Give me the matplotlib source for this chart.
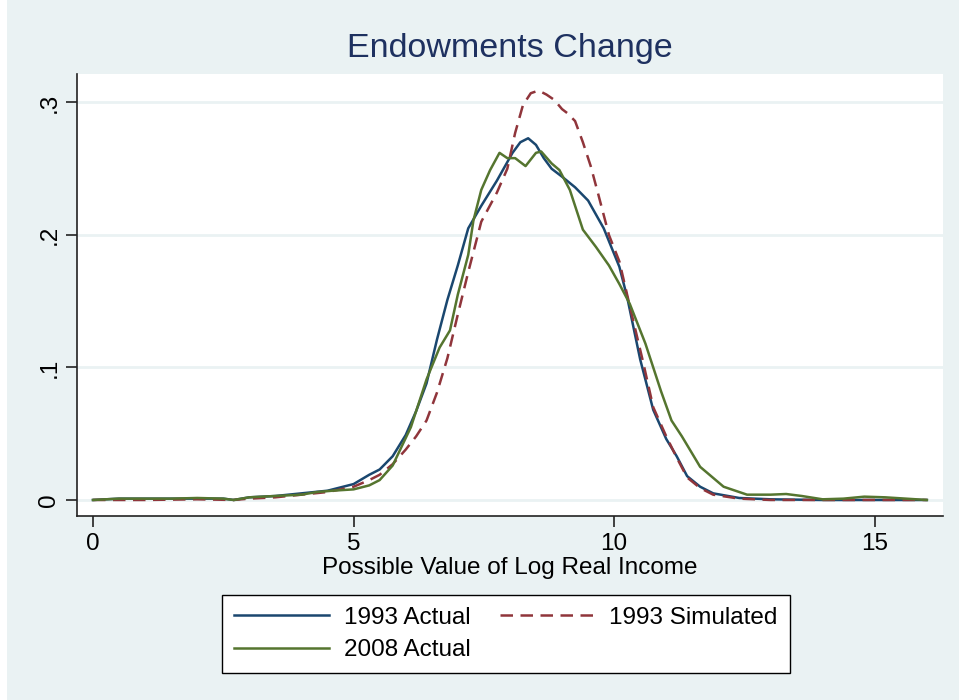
import numpy as np
import matplotlib
matplotlib.use("Agg")
import matplotlib.pyplot as plt
from matplotlib.patches import Rectangle

plt.rcParams['font.family'] = ['Liberation Sans', 'DejaVu Sans']

# 1993 Actual
x_a93 = [0, 0.5, 1, 1.5, 2, 2.5, 2.7, 3, 3.5, 4, 4.5, 5, 5.3, 5.5, 5.75, 6.0, 6.2, 6.4, 6.6, 6.8,
         7.0, 7.2, 7.45, 7.75, 8.05, 8.2, 8.35, 8.5, 8.65, 8.8, 9.0, 9.25, 9.5, 9.8, 10.1, 10.25,
         10.5, 10.75, 11.0, 11.2, 11.4, 11.65, 11.9, 12.4, 13, 14, 15, 16]
y_a93 = [0.000, 0.001, 0.001, 0.001, 0.001, 0.001, 0.000, 0.002, 0.003, 0.005, 0.007, 0.012, 0.019,
         0.023, 0.033, 0.049, 0.067, 0.088, 0.121, 0.151, 0.177, 0.205, 0.222, 0.241, 0.262, 0.270,
         0.273, 0.268, 0.258, 0.250, 0.244, 0.236, 0.226, 0.205, 0.176, 0.153, 0.106, 0.068, 0.046,
         0.033, 0.018, 0.010, 0.005, 0.0015, 0.0005, 0.0, 0.0, 0.0]

# 1993 Simulated
x_s93 = [0, 1, 2, 2.7, 3, 3.5, 4, 4.5, 5, 5.3, 5.5, 5.75, 6.0, 6.2, 6.4, 6.6, 6.8, 7.0, 7.2, 7.45,
         7.75, 7.95, 8.1, 8.25, 8.4, 8.55, 8.7, 8.85, 9.0, 9.1, 9.25, 9.4, 9.55, 9.7, 9.9, 10.1,
         10.35, 10.55, 10.75, 11.0, 11.2, 11.4, 11.65, 11.9, 12.4, 13, 14, 15, 16]
y_s93 = [0.0, 0.0, 0.0005, 0.0, 0.001, 0.002, 0.004, 0.006, 0.010, 0.015, 0.019, 0.027, 0.038,
         0.048, 0.060, 0.081, 0.107, 0.140, 0.172, 0.210, 0.232, 0.250, 0.277, 0.298, 0.307, 0.309,
         0.306, 0.302, 0.295, 0.292, 0.286, 0.270, 0.252, 0.230, 0.200, 0.180, 0.138, 0.105, 0.070,
         0.048, 0.032, 0.017, 0.009, 0.004, 0.001, 0.0, 0.0, 0.0, 0.0]

# 2008 Actual
x_a08 = [0, 0.5, 1, 1.5, 2, 2.5, 2.7, 3, 3.5, 4, 4.3, 4.6, 5, 5.3, 5.5, 5.75, 6.1, 6.4, 6.65, 6.85,
         7.0, 7.2, 7.3, 7.45, 7.62, 7.8, 7.95, 8.1, 8.3, 8.5, 8.6, 8.8, 8.95, 9.15, 9.4, 9.65, 9.9,
         10.1, 10.3, 10.6, 10.9, 11.1, 11.3, 11.65, 12.1, 12.55, 13.0, 13.3, 13.6, 14.0, 14.4, 14.8,
         15.2, 15.6, 16]
y_a08 = [0.0, 0.001, 0.001, 0.001, 0.0015, 0.001, 0.0, 0.002, 0.003, 0.004, 0.006, 0.007, 0.008,
         0.011, 0.015, 0.026, 0.055, 0.091, 0.115, 0.128, 0.155, 0.185, 0.211, 0.234, 0.249, 0.262,
         0.258, 0.258, 0.252, 0.262, 0.263, 0.254, 0.249, 0.234, 0.204, 0.191, 0.177, 0.163, 0.148,
         0.118, 0.082, 0.060, 0.048, 0.025, 0.010, 0.004, 0.004, 0.0045, 0.003, 0.0005, 0.001,
         0.0025, 0.002, 0.001, 0.0]

xticks = [0, 5, 10, 15]
yticks = [0, 0.1, 0.2, 0.3]
ytick_labels = ["0", ".1", ".2", ".3"]

bg = "#EAF2F3"
navy = "#1A476F"
maroon = "#90353B"
green = "#55752F"

fig = plt.figure(figsize=(9.59, 7.0), dpi=100, facecolor=bg)
fig.patches.append(Rectangle((0, 0), 7 / 959, 1, transform=fig.transFigure,
                             facecolor="white", edgecolor="none", zorder=0))
ax = fig.add_axes([77 / 959, 184 / 700, 866 / 959, 442 / 700])
ax.set_facecolor("white")

ax.set_xlim(-0.307, 16.31)
ax.set_ylim(-0.0121, 0.3215)

for yt in yticks:
    ax.axhline(yt, color=bg, lw=2, zorder=1)

l1, = ax.plot(x_a93, y_a93, color=navy, lw=1.8, label="1993 Actual", zorder=3)
l2, = ax.plot(x_s93, y_s93, color=maroon, lw=1.8, dashes=(5, 3), label="1993 Simulated", zorder=3)
l3, = ax.plot(x_a08, y_a08, color=green, lw=1.8, label="2008 Actual", zorder=3)

ax.spines["top"].set_visible(False)
ax.spines["right"].set_visible(False)
for s in ["left", "bottom"]:
    ax.spines[s].set_color("#222222")
    ax.spines[s].set_linewidth(1.2)

ax.set_xticks(xticks)
ax.set_xticklabels([str(v) for v in xticks], fontsize=17.5)
ax.set_yticks(yticks)
ax.set_yticklabels(ytick_labels, fontsize=17.5, rotation=90, va="center")
ax.tick_params(axis="both", direction="out", length=8, width=1.2, color="#222222", pad=4)

ax.set_xlabel("Possible Value of Log Real Income", fontsize=17.5, labelpad=2)
fig.text(510 / 959, 1 - 48 / 700, "Endowments Change", fontsize=24.5, color="#1E3160",
         ha="center", va="center")

leg = fig.legend(handles=[l1, l3, l2], ncol=2, loc="center",
                 bbox_to_anchor=(506 / 959, 1 - 634 / 700), fontsize=17.5,
                 frameon=True, fancybox=False, edgecolor="black", facecolor="white",
                 handlelength=3.9, handletextpad=0.6, columnspacing=1.2, labelspacing=0.42,
                 borderpad=0.5)
leg.get_frame().set_linewidth(1.0)
leg.get_frame().set_alpha(1)

plt.savefig("out.png", dpi=100, facecolor=bg)
